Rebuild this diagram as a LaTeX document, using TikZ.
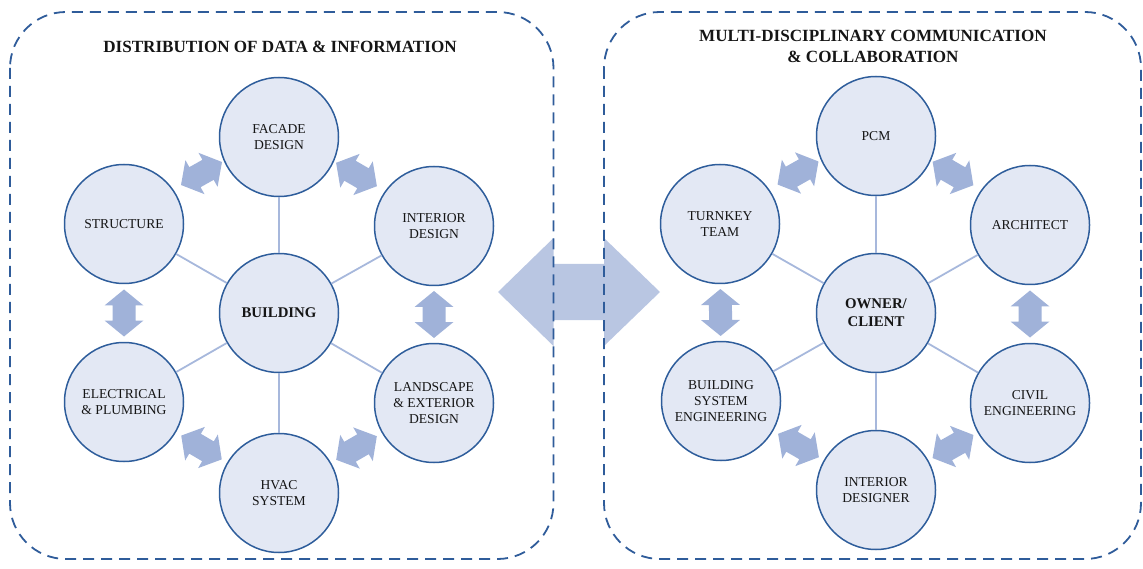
\documentclass[tikz,border=0pt]{standalone}
\usepackage{fontspec}
\setmainfont{Liberation Serif}
\definecolor{cfill}{HTML}{E3E8F4}
\definecolor{cborder}{HTML}{2E5D9B}
\definecolor{cspoke}{HTML}{A7B8DC}
\definecolor{carrow}{HTML}{A0B2D9}
\definecolor{cbig}{HTML}{B9C6E2}
\definecolor{cdash}{HTML}{2F5C9A}
\definecolor{ctext}{HTML}{151515}
\tikzset{
  dblarrow/.pic={\fill[carrow] (-23.5,0) -- (-7.5,-19.5) -- (-7.5,-11.5) -- (7.5,-11.5) -- (7.5,-19.5) -- (23.5,0) -- (7.5,19.5) -- (7.5,11.5) -- (-7.5,11.5) -- (-7.5,19.5) -- cycle;}
}
\begin{document}
\begin{tikzpicture}[x=1pt,y=-1pt,
  bubble/.style={circle, draw=cborder, line width=1.5pt, fill=cfill, minimum size=119pt, inner sep=0pt, align=center, text=ctext, font=\fontsize{13.6}{16.3}\selectfont},
  hub/.style={bubble, font=\fontsize{14.8}{18}\selectfont\bfseries},
  spoke/.style={draw=cspoke, line width=1.8pt},
  panel/.style={draw=cdash, line width=1.8pt, dash pattern=on 11pt off 7pt, rounded corners=56pt},
  title/.style={align=center, text=ctext, font=\fontsize{17.1}{21}\selectfont\bfseries}
]
\useasboundingbox (0,0) rectangle (1143,569);
% big double arrow between panels
\fill[cbig] (498,292) -- (553.5,238) -- (553.5,264) -- (604,264) -- (604,238) -- (660,292) -- (604,346) -- (604,320) -- (553.5,320) -- (553.5,346) -- cycle;
% panels
\draw[panel] (10,12) rectangle (553.5,559);
\draw[panel] (604,12) rectangle (1141,559);
% titles
\node[title] (t1) at (280,47) {DISTRIBUTION OF DATA \& INFORMATION};
\node[title] (t2) at (873,46.5) {MULTI-DISCIPLINARY COMMUNICATION\\\& COLLABORATION};
% left panel
\node[hub] (b) at (279,313) {BUILDING};
\node[bubble] (fa) at (279,137) {FACADE\\DESIGN};
\node[bubble] (st) at (124,224) {STRUCTURE};
\node[bubble] (in) at (434,226) {INTERIOR\\DESIGN};
\node[bubble] (el) at (124,402) {ELECTRICAL\\\& PLUMBING};
\node[bubble] (la) at (434,403) {LANDSCAPE\\\& EXTERIOR\\DESIGN};
\node[bubble] (hv) at (279,493) {HVAC\\SYSTEM};
\foreach \n in {fa,st,in,el,la,hv} \draw[spoke] (b) -- (\n);
\path ([yshift=7pt]st.center) -- ([yshift=7pt]fa.center) pic[pos=0.5,sloped]{dblarrow};
\path ([yshift=7pt]fa.center) -- ([yshift=7pt]in.center) pic[pos=0.5,sloped]{dblarrow};
\path (st) -- (el) pic[pos=0.5,sloped]{dblarrow};
\path (in) -- (la) pic[pos=0.5,sloped]{dblarrow};
\path (el) -- (hv) pic[pos=0.5,sloped]{dblarrow};
\path (hv) -- (la) pic[pos=0.5,sloped]{dblarrow};
% right panel
\node[hub] (o) at (876,313) {OWNER/\\CLIENT};
\node[bubble] (pc) at (876,136) {PCM};
\node[bubble] (tu) at (720,224) {TURNKEY\\TEAM};
\node[bubble] (ar) at (1030,225) {ARCHITECT};
\node[bubble] (bs) at (721,401) {BUILDING\\SYSTEM\\ENGINEERING};
\node[bubble] (ci) at (1030,403) {CIVIL\\ENGINEERING};
\node[bubble] (id) at (876,490) {INTERIOR\\DESIGNER};
\foreach \n in {pc,tu,ar,bs,ci,id} \draw[spoke] (o) -- (\n);
\path ([yshift=7pt]tu.center) -- ([yshift=7pt]pc.center) pic[pos=0.5,sloped]{dblarrow};
\path ([yshift=7pt]pc.center) -- ([yshift=7pt]ar.center) pic[pos=0.5,sloped]{dblarrow};
\path (tu) -- (bs) pic[pos=0.5,sloped]{dblarrow};
\path (ar) -- (ci) pic[pos=0.5,sloped]{dblarrow};
\path (bs) -- (id) pic[pos=0.5,sloped]{dblarrow};
\path (id) -- (ci) pic[pos=0.5,sloped]{dblarrow};
\end{tikzpicture}
\end{document}
